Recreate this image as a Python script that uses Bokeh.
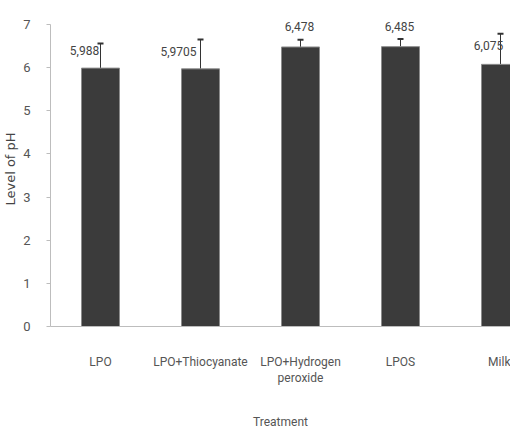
from bokeh.plotting import figure
from bokeh.models import ColumnDataSource, FixedTicker, Whisker, TeeHead, Range1d
from bokeh.core.properties import value
from bokeh.embed import file_html
from bokeh.resources import INLINE

categories = ["LPO", "LPO+Thiocyanate", "LPO+Hydrogen\nperoxide", "LPOS", "Milk"]
ph_values = [5.988, 5.9705, 6.478, 6.485, 6.075]
ph_errors = [0.57, 0.68, 0.17, 0.18, 0.71]
value_labels = ["5,988", "5,9705", "6,478", "6,485", "6,075"]
y_ticks = [0, 1, 2, 3, 4, 5, 6, 7]

# label placement (screen px offsets, styling only)
label_dx = [-16, -22, -1, -1, -12]
label_dy = [-18, -17, -20, -20, -19]

xs = list(range(1, len(categories) + 1))
upper = [v + e for v, e in zip(ph_values, ph_errors)]

src = ColumnDataSource(dict(x=xs, top=ph_values, upper=upper, txt=value_labels,
                            dx=label_dx, dy=label_dy))

FONT = "Roboto"

p = figure(width=510, height=432, output_backend="svg", toolbar_location=None,
           x_range=Range1d(0.5, 5.1), y_range=Range1d(0, 7.3),
           min_border_left=50, min_border_right=0, min_border_top=11, min_border_bottom=105)
p.outline_line_color = None
p.xgrid.visible = False
p.ygrid.visible = False
p.background_fill_color = "white"
p.border_fill_color = "white"

p.vbar(x="x", top="top", width=0.38, bottom=0, source=src,
       fill_color="#3b3b3b", line_color="#8c8c8c", line_width=1)

w = Whisker(base="x", lower="top", upper="upper", source=src,
            line_color="#333333", line_width=1,
            upper_head=TeeHead(size=6, line_color="#333333", line_width=2),
            lower_head=None)
p.add_layout(w)

p.text(x="x", y="top", text="txt", source=src, x_offset="dx", y_offset="dy",
       text_align="center", text_baseline="middle",
       text_font=value(FONT), text_font_size="12px", text_color="#444444")

# y axis
p.yaxis.ticker = FixedTicker(ticks=y_ticks)
p.yaxis.bounds = (0, 7)
p.yaxis.axis_line_color = "#bdbdbd"
p.yaxis.major_tick_line_color = "#bdbdbd"
p.yaxis.major_tick_out = 4
p.yaxis.major_tick_in = 0
p.yaxis.minor_tick_line_color = None
p.yaxis.major_label_text_font = FONT
p.yaxis.major_label_text_font_size = "13px"
p.yaxis.major_label_text_color = "#555555"
p.yaxis.major_label_standoff = 16
p.yaxis.axis_label = "Level of pH"
p.yaxis.axis_label_text_font = "DejaVu Sans"
p.yaxis.axis_label_text_font_style = "normal"
p.yaxis.axis_label_text_font_size = "13px"
p.yaxis.axis_label_text_color = "#444444"
p.yaxis.axis_label_standoff = 2

# x axis
p.xaxis.ticker = FixedTicker(ticks=xs)
p.xaxis.major_label_overrides = {x: c for x, c in zip(xs, categories)}
p.xaxis.axis_line_color = "#bdbdbd"
p.xaxis.major_tick_line_color = None
p.xaxis.minor_tick_line_color = None
p.xaxis.major_label_text_font = FONT
p.xaxis.major_label_text_font_size = "12px"
p.xaxis.major_label_text_color = "#555555"
p.xaxis.major_label_standoff = 22
p.xaxis.axis_label = "Treatment"
p.xaxis.axis_label_text_font = FONT
p.xaxis.axis_label_text_font_style = "normal"
p.xaxis.axis_label_text_font_size = "12px"
p.xaxis.axis_label_text_color = "#555555"
p.xaxis.axis_label_standoff = 27

open("out.html", "w").write(file_html(p, INLINE))
